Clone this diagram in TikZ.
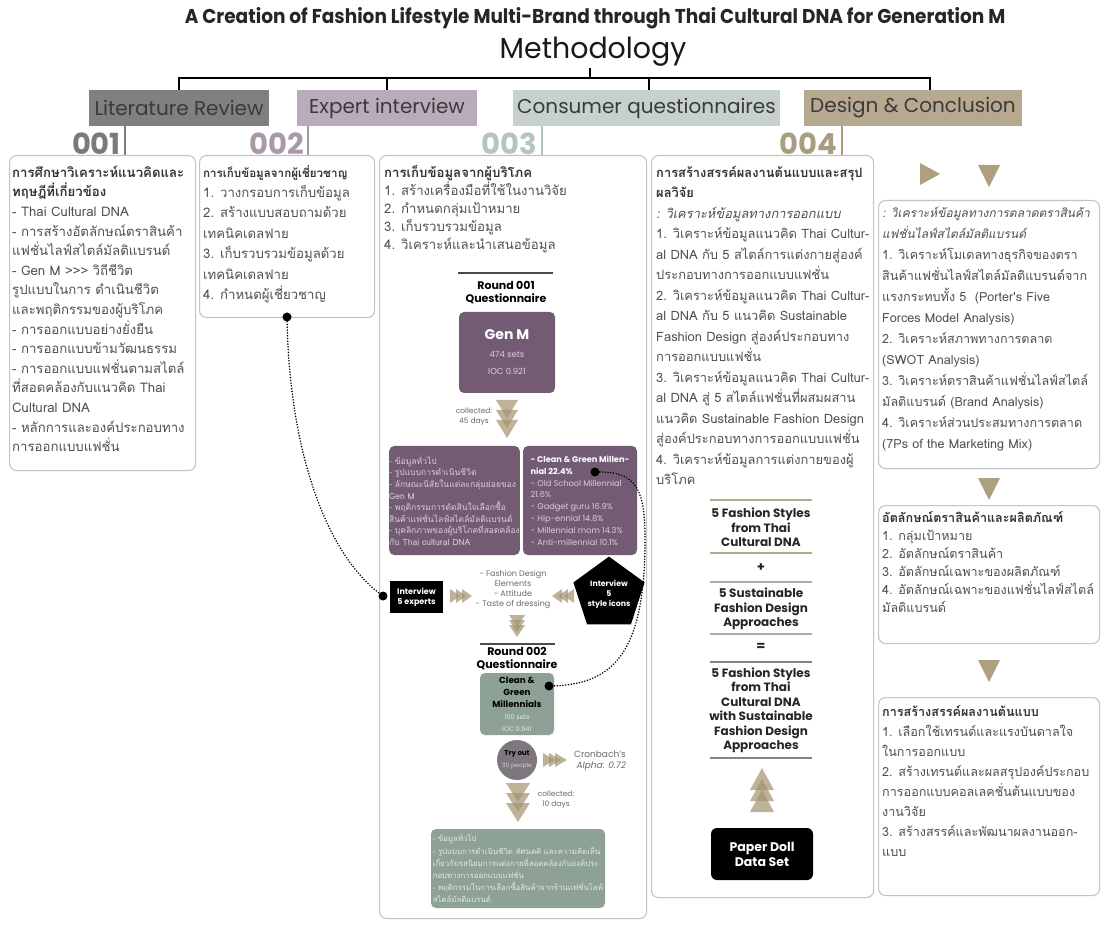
\documentclass[tikz,border=0pt]{standalone}
\usepackage{fontspec}
\setmainfont{Poppins}
\newfontfamily\thai[Script=Thai]{Loma}
\usetikzlibrary{
    arrows.meta,
    positioning,
    shapes.geometric
}

\definecolor{litgray}{HTML}{808080}
\definecolor{expmauve}{HTML}{BAABBA}
\definecolor{consgreen}{HTML}{C6D1CD}
\definecolor{destan}{HTML}{B6A98F}
\definecolor{numgray}{HTML}{7A7A7A}
\definecolor{nummauve}{HTML}{A898A8}
\definecolor{numgreen}{HTML}{B4C4BF}
\definecolor{numtan}{HTML}{A99D80}
\definecolor{hdrtext}{HTML}{3A3A3A}
\definecolor{boxline}{HTML}{C4C4C4}
\definecolor{bodytext}{HTML}{505050}
\definecolor{genpurple}{HTML}{735C73}
\definecolor{genlight}{HTML}{DCCCDC}
\definecolor{cggreen}{HTML}{8DA197}
\definecolor{cglight}{HTML}{E2EAE5}
\definecolor{tryout}{HTML}{7E787E}
\definecolor{chevtan}{HTML}{A39370}
\definecolor{tantri}{HTML}{ADA07F}
\definecolor{ruletan}{HTML}{B5A98C}
\definecolor{rulegreen}{HTML}{9FB0A9}
\definecolor{rulemauve}{HTML}{8C7C8C}
\definecolor{softtext}{HTML}{6A6A6A}

\newcommand\lnstrut{\rule{0pt}{15pt}}
\newcommand\colhead[1]{{\color{black!80}\bfseries #1}}
\newcommand\mkital[1]{{\itshape\fontsize{12}{14}\selectfont #1}}
\newcommand\cgtitle[1]{{\bfseries\fontsize{8.8}{11.5}\selectfont #1}}
\newcommand\cgsmall[1]{{\color{cglight}\fontsize{6.5}{10}\selectfont #1}}
\newcommand\gmsmall[1]{{\color{genlight}\fontsize{8.5}{17}\selectfont #1}}

\begin{document}
\begin{tikzpicture}[
x=1pt, y=-1pt,
hdr/.style={
fill=#1,
minimum height=36pt,
inner sep=0pt,
text=hdrtext,
font=\fontsize{20}{22}\selectfont
},
numlbl/.style={
text=#1,
anchor=base east,
inner sep=0pt,
font=\bfseries\fontsize{29}{29}\selectfont
},
bracket/.style={line width=2.8pt},
colbox/.style={
draw=boxline,
line width=1.1pt,
rounded corners=7pt,
anchor=north west,
inner sep=0pt
},
coltext/.style={
anchor=north west,
align=left,
inner sep=0pt,
text=bodytext,
font=\thai\fontsize{13.2}{#1}\selectfont
},
coltext/.default=19.6,
qbox/.style={
fill=#1,
rounded corners=5pt,
inner sep=0pt,
align=center
},
roundhead/.style={
font=\bfseries\fontsize{11}{13}\selectfont,
text=black,
align=center,
inner sep=0pt
},
smallthai/.style={
font=\thai\fontsize{8.5}{11.6}\selectfont,
align=left
},
smalltext/.style={
font=\fontsize{8}{10}\selectfont,
text=softtext,
align=center,
inner sep=0pt
},
stacktext/.style={
font=\bfseries\fontsize{12}{14.5}\selectfont,
text=black!85,
align=center,
inner sep=0pt
},
dot/.style={circle, fill=black, inner sep=0pt, minimum size=9pt},
dotlink/.style={line width=1.7pt, dash pattern=on 0pt off 2.8pt, line cap=round},
rule/.style={line width=1.8pt, draw=#1},
tri/.style={fill=tantri},
pics/chev/.style n args={3}{code={
\foreach \k in {0,1,2}
\fill[chevtan, fill opacity=0.7]
(\k*#3,-#1) -- (\k*#3+#2,0) -- (\k*#3,#1) -- cycle;
}}
]

\fill[white] (0,0) rectangle (1104,925);
\useasboundingbox (0,0) rectangle (1104,925);

% title and bracket
\node[font=\bfseries\fontsize{20}{22}\selectfont, text=black!85] (ttl) at (595,18)
{\scalebox{0.925}[1]{A Creation of Fashion Lifestyle Multi-Brand through Thai Cultural DNA for Generation M}};

\node[font=\fontsize{29}{32}\selectfont, text=black!90] (meth) at (593,52)
{\scalebox{0.98}[1]{Methodology}};

\node[hdr=litgray, minimum width=180pt] (lit) at (179,108) {Literature Review};
\node[hdr=expmauve, minimum width=180pt] (exp) at (387,108) {Expert interview};
\node[hdr=consgreen, minimum width=267pt] (cons) at (646.5,108) {Consumer questionnaires};
\node[hdr=destan, minimum width=218pt] (des) at (913,108) {Design \& Conclusion};

\coordinate (hbar) at (0,78);
\coordinate (stem) at (590,68);
\draw[bracket] (stem) -- (stem |- hbar);
\draw[bracket, line cap=rect] (lit.north |- hbar) -- ([xshift=17pt]des.north |- hbar);
\draw[bracket] (lit.north |- hbar) -- (lit.north);
\draw[bracket] (exp.north |- hbar) -- (exp.north);
\draw[bracket] ([xshift=2.5pt]cons.north |- hbar) -- ([xshift=2.5pt]cons.north);
\draw[bracket] ([xshift=17pt]des.north |- hbar) -- ([xshift=17pt]des.north);

% step numbers
\node[numlbl=numgray] (n1) at (121,155) {001};
\node[numlbl=nummauve] (n2) at (304,155) {002};
\node[numlbl=numgreen] (n3) at (537,155) {003};
\node[numlbl=numtan] (n4) at (837,155) {004};
\draw[numgray, line width=1.4pt] (125,126) -- (125,155);
\draw[nummauve, line width=1.4pt] (308,126) -- (308,155);
\draw[numgreen, line width=1.4pt] (542,126) -- (542,155);
\draw[numtan, line width=1.4pt] (842,126) -- (842,155);

% column frames
\node[colbox, minimum width=186pt, minimum height=315pt] (lrbox) at (9,155) {};
\node[colbox, minimum width=175pt, minimum height=162pt] (eibox) at (199,155) {};
\node[colbox, minimum width=267pt, minimum height=763pt] (cqbox) at (379,155) {};
\node[colbox, minimum width=222pt, minimum height=742pt] (dcbox) at (651,155) {};
\node[colbox, minimum width=221pt, minimum height=268pt] (mkbox) at (878,200) {};
\node[colbox, minimum width=221pt, minimum height=138pt] (idbox) at (878,505) {};
\node[colbox, minimum width=221pt, minimum height=198pt] (pbox) at (878,697) {};

% column texts
\node[coltext] (lrtext) at (12,162)
{\lnstrut\colhead{การศึกษาวิเคราะห์แนวคิดและ}\\
\colhead{ทฤษฎีที่เกี่ยวข้อง}\\
- Thai Cultural DNA\\
- การสร้างอัตลักษณ์ตราสินค้า\\
แฟชั่นไลฟ์สไตล์มัลติแบรนด์\\
- Gen M >>> วิถีชีวิต\\
รูปแบบในการ ดำเนินชีวิต\\
และพฤติกรรมของผู้บริโภค\\
- การออกแบบอย่างยั่งยืน\\
- การออกแบบข้ามวัฒนธรรม\\
- การออกแบบแฟชั่นตามสไตล์\\
ที่สอดคล้องกับแนวคิด Thai\\
Cultural DNA\\
- หลักการและองค์ประกอบทาง\\
การออกแบบแฟชั่น};

\node[coltext=20.4] (eitext) at (203,162)
{\lnstrut\colhead{\fontsize{11.6}{14}\selectfont การเก็บข้อมูลจากผู้เชี่ยวชาญ}\\
1. วางกรอบการเก็บข้อมูล\\
2. สร้างแบบสอบถามด้วย\\
เทคนิคเดลฟาย\\
3. เก็บรวบรวมข้อมูลด้วย\\
เทคนิคเดลฟาย\\
4. กำหนดผู้เชี่ยวชาญ};

\node[coltext=18] (cqtext) at (384,162)
{\lnstrut\colhead{การเก็บข้อมูลจากผู้บริโภค}\\
1. สร้างเครื่องมือที่ใช้ในงานวิจัย\\
2. กำหนดกลุ่มเป้าหมาย\\
3. เก็บรวบรวมข้อมูล\\
4. วิเคราะห์และนำเสนอข้อมูล};

\node[coltext=20.5, font=\thai\fontsize{12.9}{20.5}\selectfont] (dctext) at (656,162)
{\lnstrut\colhead{การสร้างสรรค์ผลงานต้นแบบและสรุป}\\
\colhead{ผลวิจัย}\\
\textit{: วิเคราะห์ข้อมูลทางการออกแบบ}\\
1. วิเคราะห์ข้อมูลแนวคิด Thai Cultur-\\
al DNA กับ 5 สไตล์การแต่งกายสู่องค์\\
ประกอบทางการออกแบบแฟชั่น\\
2. วิเคราะห์ข้อมูลแนวคิด Thai Cultur-\\
al DNA กับ 5 แนวคิด Sustainable\\
Fashion Design สู่องค์ประกอบทาง\\
การออกแบบแฟชั่น\\
3. วิเคราะห์ข้อมูลแนวคิด Thai Cultur-\\
al DNA สู่ 5 สไตล์แฟชั่นที่ผสมผสาน\\
แนวคิด Sustainable Fashion Design\\
สู่องค์ประกอบทางการออกแบบแฟชั่น\\
4. วิเคราะห์ข้อมูลการแต่งกายของผู้\\
บริโภค};

\node[coltext=21, font=\thai\fontsize{12.6}{21}\selectfont] (mktext) at (882,202)
{\lnstrut\mkital{: วิเคราะห์ข้อมูลทางการตลาดตราสินค้า}\\
\mkital{แฟชั่นไลฟ์สไตล์มัลติแบรนด์}\\
1. วิเคราะห์โมเดลทางธุรกิจของตรา\\
สินค้าแฟชั่นไลฟ์สไตล์มัลติแบรนด์จาก\\
แรงกระทบทั้ง 5~~(Porter's Five\\
Forces Model Analysis)\\
2. วิเคราะห์สภาพทางการตลาด\\
(SWOT Analysis)\\
3. วิเคราะห์ตราสินค้าแฟชั่นไลฟ์สไตล์\\
มัลติแบรนด์ (Brand Analysis)\\
4. วิเคราะห์ส่วนประสมทางการตลาด\\
(7Ps of the Marketing Mix)};

\node[coltext=18, font=\thai\fontsize{12.6}{18}\selectfont] (idtext) at (882,507)
{\lnstrut\colhead{อัตลักษณ์ตราสินค้าและผลิตภัณฑ์}\\
1. กลุ่มเป้าหมาย\\
2. อัตลักษณ์ตราสินค้า\\
3. อัตลักษณ์เฉพาะของผลิตภัณฑ์\\
4. อัตลักษณ์เฉพาะของแฟชั่นไลฟ์สไตล์\\
มัลติแบรนด์};

\node[coltext=20, font=\thai\fontsize{12.6}{20}\selectfont] (ptext) at (882,701)
{\lnstrut\colhead{การสร้างสรรค์ผลงานต้นแบบ}\\
1. เลือกใช้เทรนด์และแรงบันดาลใจ\\
ในการออกแบบ\\
2. สร้างเทรนด์และผลสรุปองค์ประกอบ\\
การออกแบบคอลเลคชั่นต้นแบบของ\\
งานวิจัย\\
3. สร้างสรรค์และพัฒนาผลงานออก-\\
แบบ};

% consumer questionnaire flow
\draw[line width=1.6pt, black!70] (458,273) -- (553,273);
\node[roundhead] (r1) at (506,293) {Round 001\\Questionnaire};

\node[qbox=genpurple, minimum width=96pt, minimum height=81pt,
font=\fontsize{8.5}{17}\selectfont] (genm) at (507,352.5)
{{\color{white}\bfseries\fontsize{14}{16}\selectfont Gen M}\\[1pt]
\gmsmall{474 sets}\\
\gmsmall{IOC 0.921}};

\pic[rotate=-90] at (507,400) {chev={11}{18}{10}};
\node[smalltext, font=\fontsize{7.5}{10}\selectfont] (col45) at (474,417) {collected:\\45 days};

\node[qbox=genpurple, minimum width=129pt, minimum height=109pt, text=genlight,
smallthai] (gminfo) at (454.5,500.5)
{- ข้อมูลทั่วไป\\
- รูปแบบการดำเนินชีวิต\\
- ลักษณะนิสัยในแต่ละกลุ่มย่อยของ\\
Gen M\\
- พฤติกรรมการตัดสินใจเลือกซื้อ\\
สินค้าแฟชั่นไลฟ์สไตล์มัลติแบรนด์\\
- บุคลิกภาพของผู้บริโภคที่สอดคล้อง\\
กับ Thai cultural DNA};

\node[qbox=genpurple, minimum width=114pt, minimum height=109pt, text=genlight,
font=\fontsize{8.2}{11.8}\selectfont, align=left] (gmtypes) at (580,500.5)
{\textcolor{white}{\bfseries - Clean \& Green Millen-}\\
\textcolor{white}{\bfseries nial 22.4\%}\\
- Old School Millennial\\
21.6\%\\
- Gadget guru 16.9\%\\
- Hip-ennial 14.8\%\\
- Millennial mom 14.3\%\\
- Anti-millennial 10.1\%};

\node[dot] (cgdot) at (595,472) {};

\node[fill=black, minimum width=53pt, minimum height=32pt, inner sep=0pt, text=white,
align=center, font=\bfseries\fontsize{8}{10}\selectfont] (experts) at (416.5,597)
{Interview\\5 experts};
\node[dot] (expdot) at (383,596) {};

\pic at (450,596) {chev={7}{10}{6}};
\node[smalltext] (elems) at (513,590)
{- Fashion Design\\Elements\\- Attitude\\- Taste of dressing};
\pic[rotate=180] at (574,596) {chev={7}{10}{6}};

\node[regular polygon, regular polygon sides=5, fill=black, minimum size=66pt,
inner sep=0pt, text=white, align=center,
font=\bfseries\fontsize{7.8}{10}\selectfont] (icons) at (609,594)
{Interview\\5\\style icons};

\pic[rotate=-90] at (517,615) {chev={8}{12}{5}};

\draw[line width=1.6pt, black!70] (480,644) -- (555,644);
\node[roundhead] (r2) at (517,659) {Round 002\\Questionnaire};

\node[qbox=cggreen, minimum width=74pt, minimum height=62pt] (cgq) at (517,704)
{\cgtitle{Clean \&}\\
\cgtitle{Green}\\
\cgtitle{Millennials}\\
\cgsmall{100 sets}\\
\cgsmall{IOC 0.941}};
\node[dot] (cgqdot) at (549,686) {};

\node[circle, fill=tryout, minimum size=40pt, inner sep=0pt, align=center] (try) at (517,760)
{{\bfseries\fontsize{7}{8}\selectfont Try out}\\
{\color{genlight}\fontsize{6}{7}\selectfont 30 people}};
\pic at (543,760) {chev={7}{12}{6}};
\node[font=\fontsize{9}{11.5}\selectfont, text=softtext, align=right, inner sep=0pt]
(alpha) at (600,761) {Cronbach's\\\textit{Alpha: 0.72}};

\pic[rotate=-90] at (518,783) {chev={12}{19}{10}};
\node[smalltext, font=\fontsize{7.5}{10}\selectfont] (col10) at (556,800) {collected:\\10 days};

\node[qbox=cggreen, minimum width=174pt, minimum height=79pt, text=cglight,
smallthai, font=\thai\fontsize{7.8}{12.2}\selectfont] (cginfo) at (518,868.5)
{- ข้อมูลทั่วไป\\
- รูปแบบการดำเนินชีวิต ทัศนคติ และความคิดเห็น\\
เกี่ยวกับรสนิยมการแต่งกายที่สอดคล้องกับองค์ประ\\
กอบทางการออกแบบแฟชั่น\\
- พฤติกรรมในการเลือกซื้อสินค้าจากร้านแฟชั่นไลฟ์\\
สไตล์มัลติแบรนด์};

\node[dot] (eidot) at (287,317) {};
\draw[dotlink] (eidot) .. controls (290,460) and (330,556) .. (expdot);
\draw[dotlink] (cgdot) .. controls (638,472) and (645,492) .. (645,540)
.. controls (645,650) and (615,684) .. (cgqdot);

% design stack
\draw[rule=ruletan] (710,500) -- (812,500);
\node[stacktext] (fsty) at (761,527.5) {5 Fashion Styles\\from Thai\\Cultural DNA};
\draw[rule=ruletan] (710,553) -- (812,553);
\node[stacktext, font=\bfseries\fontsize{13}{14}\selectfont] (plus) at (761,568) {+};
\draw[rule=rulegreen] (710,582) -- (812,582);
\node[stacktext] (sfd) at (761,609) {5 Sustainable\\Fashion Design\\Approaches};
\draw[rule=rulegreen] (710,634) -- (812,634);
\node[stacktext, font=\bfseries\fontsize{13}{14}\selectfont] (eq) at (761,647) {=};
\draw[rule=rulemauve] (710,662) -- (812,662);
\node[stacktext] (res) at (761,710.5)
{5 Fashion Styles\\from Thai\\Cultural DNA\\with Sustainable\\Fashion Design\\Approaches};
\draw[rule=rulemauve] (710,758) -- (812,758);

\pic[rotate=90] at (762,812) {chev={12}{22}{11}};
\node[fill=black, rounded corners=6pt, minimum width=102pt, minimum height=52pt,
inner sep=0pt, text=white, align=center,
font=\bfseries\fontsize{12.5}{15}\selectfont] (doll) at (762,854) {Paper Doll\\Data Set};

% marketing column markers
\fill[tri] (920,163) -- (940,174) -- (920,185) -- cycle;
\fill[tri] (978,165) -- (1000,165) -- (989,187) -- cycle;
\fill[tri] (978,478) -- (1000,478) -- (989,500) -- cycle;
\fill[tri] (978,660) -- (1000,660) -- (989,682) -- cycle;

\end{tikzpicture}
\end{document}
